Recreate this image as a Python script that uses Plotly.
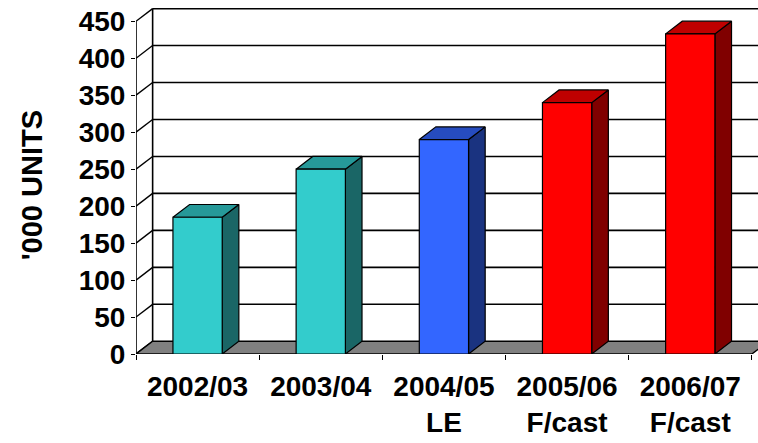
import plotly.graph_objects as go

# Annual volumes ('000 units)
categories = ["2002/03", "2003/04", "2004/05<br>LE", "2005/06<br>F/cast", "2006/07<br>F/cast"]
units = [185, 250, 290, 340, 433]
y_ticks = [0, 50, 100, 150, 200, 250, 300, 350, 400, 450]

# Face colours for each column: front, top (shaded), side (darker)
front_colors = ["#33CCCC", "#33CCCC", "#3366FF", "#FF0000", "#FF0000"]
top_colors = ["#269999", "#269999", "#264CBF", "#BF0000", "#BF0000"]
side_colors = ["#1A6666", "#1A6666", "#1A3380", "#800000", "#800000"]

# Oblique depth offset of the pseudo-3D box (x in category units, y in value units)
DX = 0.135
DY = 17.2
HALF = 0.2
X0, X1 = -0.5, 4.5
XMAX = 4.55
YMAX = 468.0
FONT = dict(family="Arial, Liberation Sans, sans-serif", size=28, color="black", weight="bold")

fig = go.Figure()


def seg(xs, ys, w=1.5):
    fig.add_trace(go.Scatter(x=xs, y=ys, mode="lines", line=dict(color="black", width=w),
                             hoverinfo="skip", showlegend=False))


def poly(xs, ys, fill, w=1.2):
    fig.add_trace(go.Scatter(x=xs + [xs[0]], y=ys + [ys[0]], mode="lines", fill="toself",
                             fillcolor=fill, line=dict(color="black", width=w),
                             hoverinfo="skip", showlegend=False))


# Back wall gridlines
for v in y_ticks[1:]:
    seg([X0 + DX, XMAX + 1], [v + DY, v + DY], 1.6)
# Side wall diagonals
for v in y_ticks:
    seg([X0, X0 + DX], [v, v + DY], 1.4)
# Back wall left edge and front value axis
seg([X0 + DX, X0 + DX], [DY, y_ticks[-1] + DY], 1.6)
seg([X0, X0], [0, y_ticks[-1]], 1.6)

# Floor
poly([X0, X1, X1 + DX, X0 + DX], [0, 0, DY, DY], "#808080", 1.4)

# Columns: side, top, front
for i, v in enumerate(units):
    l, r = i - HALF, i + HALF
    poly([r, r + DX, r + DX, r], [0, DY, v + DY, v], side_colors[i])
    poly([l, r, r + DX, l + DX], [v, v, v + DY, v + DY], top_colors[i])
    poly([l, r, r, l], [0, 0, v, v], front_colors[i])

fig.update_layout(
    width=758, height=443,
    margin=dict(l=136, r=0, t=8, b=89),
    paper_bgcolor="white", plot_bgcolor="white",
    showlegend=False,
    xaxis=dict(range=[X0, XMAX], showgrid=False, zeroline=False, showline=False,
               tickmode="array", tickvals=list(range(len(categories))), ticktext=categories,
               ticks="", tickfont=FONT, ticklabelstandoff=13,
               minor=dict(tickmode="linear", tick0=-0.5, dtick=1, ticks="outside",
                          ticklen=5, tickwidth=1.4, tickcolor="black", showgrid=False)),
    yaxis=dict(range=[0, YMAX], showgrid=False, zeroline=False, showline=False,
               tickmode="array", tickvals=y_ticks, ticks="outside", ticklen=4,
               tickwidth=1.4, tickcolor="black", tickfont=FONT),
    annotations=[dict(text="'000 UNITS", xref="paper", yref="paper", x=-0.167, y=0.488,
                      textangle=-90, showarrow=False, xanchor="center", yanchor="middle",
                      font=dict(family="Arial, Liberation Sans, sans-serif", size=29,
                                color="black", weight="bold"))],
)

fig.write_html("out.html")
